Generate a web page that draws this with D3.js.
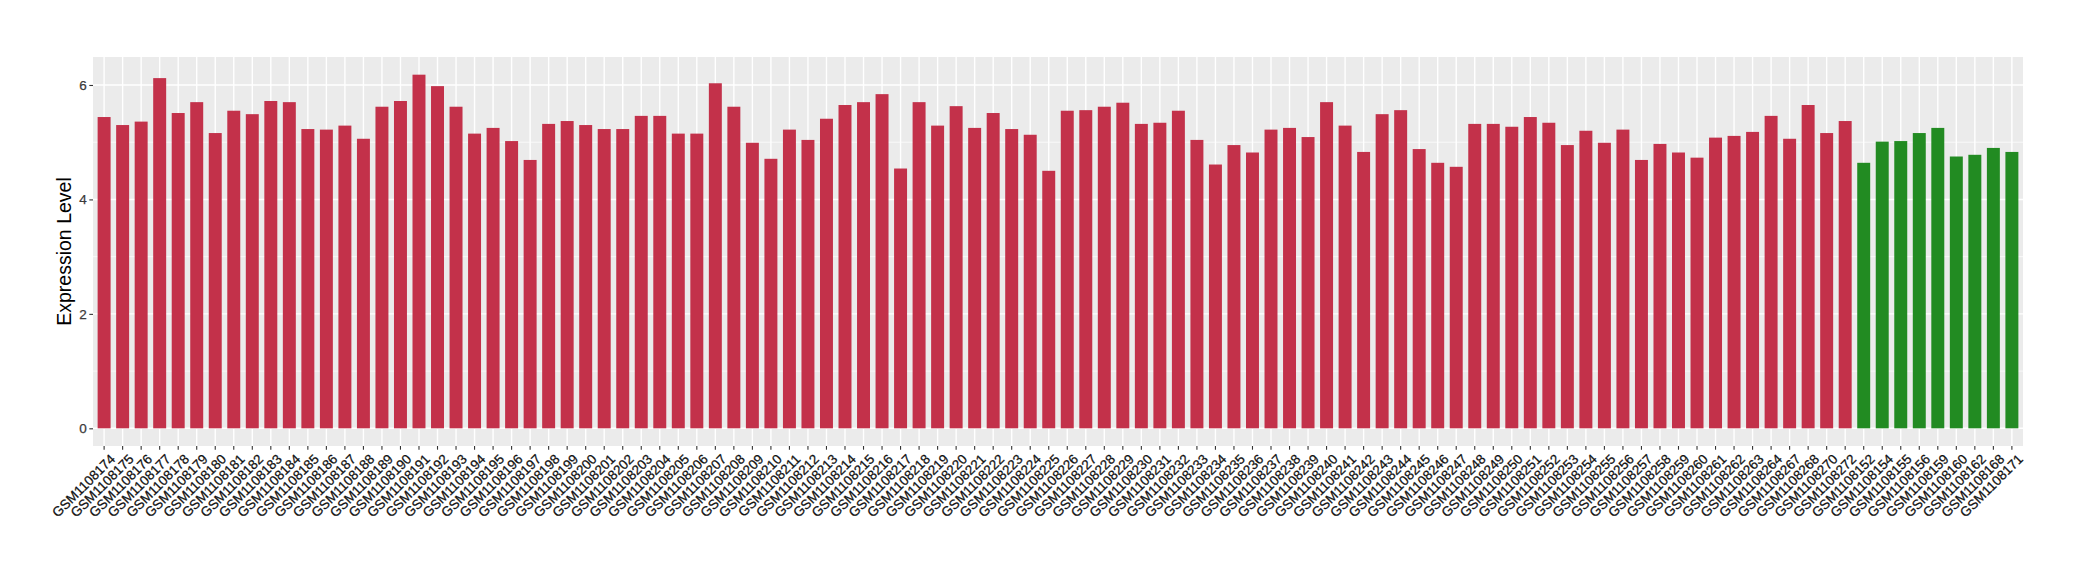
<!DOCTYPE html>
<html>
<head>
<meta charset="utf-8">
<script src="https://cdn.jsdelivr.net/npm/d3@7"></script>
<style>
  html, body { margin: 0; padding: 0; background: #ffffff; }
  svg { display: block; }
  text { font-family: "Liberation Sans", Arial, Helvetica, sans-serif; }
</style>
</head>
<body>
<svg id="chart" width="2080" height="580"></svg>
<script>
// ---- data ----
const redSamples = [
  "GSM1108174","GSM1108175","GSM1108176","GSM1108177","GSM1108178","GSM1108179","GSM1108180",
  "GSM1108181","GSM1108182","GSM1108183","GSM1108184","GSM1108185","GSM1108186","GSM1108187",
  "GSM1108188","GSM1108189","GSM1108190","GSM1108191","GSM1108192","GSM1108193","GSM1108194",
  "GSM1108195","GSM1108196","GSM1108197","GSM1108198","GSM1108199","GSM1108200","GSM1108201",
  "GSM1108202","GSM1108203","GSM1108204","GSM1108205","GSM1108206","GSM1108207","GSM1108208",
  "GSM1108209","GSM1108210","GSM1108211","GSM1108212","GSM1108213","GSM1108214","GSM1108215",
  "GSM1108216","GSM1108217","GSM1108218","GSM1108219","GSM1108220","GSM1108221","GSM1108222",
  "GSM1108223","GSM1108224","GSM1108225","GSM1108226","GSM1108227","GSM1108228","GSM1108229",
  "GSM1108230","GSM1108231","GSM1108232","GSM1108233","GSM1108234","GSM1108235","GSM1108236",
  "GSM1108237","GSM1108238","GSM1108239","GSM1108240","GSM1108241","GSM1108242","GSM1108243",
  "GSM1108244","GSM1108245","GSM1108246","GSM1108247","GSM1108248","GSM1108249","GSM1108250",
  "GSM1108251","GSM1108252","GSM1108253","GSM1108254","GSM1108255","GSM1108256","GSM1108257",
  "GSM1108258","GSM1108259","GSM1108260","GSM1108261","GSM1108262","GSM1108263","GSM1108264",
  "GSM1108267","GSM1108268","GSM1108270","GSM1108272"
];
const redValues = [
  5.44,5.30,5.36,6.12,5.51,5.70,5.16,
  5.55,5.49,5.72,5.70,5.23,5.22,5.29,
  5.06,5.62,5.72,6.18,5.98,5.62,5.15,
  5.25,5.02,4.69,5.32,5.37,5.30,5.23,
  5.23,5.46,5.46,5.15,5.15,6.03,5.62,
  4.99,4.71,5.22,5.04,5.41,5.65,5.70,
  5.84,4.54,5.70,5.29,5.63,5.25,5.51,
  5.23,5.13,4.50,5.55,5.56,5.62,5.69,
  5.32,5.34,5.55,5.04,4.61,4.95,4.82,
  5.22,5.25,5.09,5.70,5.29,4.83,5.49,
  5.56,4.88,4.64,4.57,5.32,5.32,5.27,
  5.44,5.34,4.95,5.20,4.99,5.22,4.69,
  4.97,4.82,4.73,5.08,5.11,5.18,5.46,
  5.06,5.65,5.16,5.37
];
const greenSamples = [
  "GSM1108152","GSM1108154","GSM1108155","GSM1108156","GSM1108159",
  "GSM1108160","GSM1108162","GSM1108168","GSM1108171"
];
const greenValues = [4.64,5.01,5.02,5.16,5.25,4.75,4.78,4.90,4.83];
const yTicks = [0, 2, 4, 6];
const yMinorTicks = [1, 3, 5];
const yTitle = "Expression Level";
const redColor = "#C3314A";
const greenColor = "#228B22";

// ---- build table ----
const rows = redSamples.map((s, i) => ({ sample: s, value: redValues[i], group: "red" }))
  .concat(greenSamples.map((s, i) => ({ sample: s, value: greenValues[i], group: "green" })));

// ---- layout ----
const panel = { left: 93, right: 2023, top: 57, bottom: 446 };
const svg = d3.select("#chart");

const x = d3.scaleBand()
  .domain(rows.map(d => d.sample))
  .range([panel.left, panel.right])
  .paddingInner(0.3)
  .paddingOuter(0.25);

const maxV = d3.max(rows, d => d.value);
const y = d3.scaleLinear()
  .domain([-0.05 * maxV, maxV * 1.05])
  .range([panel.bottom, panel.top]);

// panel background
svg.append("rect")
  .attr("x", panel.left).attr("y", panel.top)
  .attr("width", panel.right - panel.left)
  .attr("height", panel.bottom - panel.top)
  .attr("fill", "#EBEBEB");

// minor horizontal grid
svg.append("g").selectAll("line").data(yMinorTicks).join("line")
  .attr("x1", panel.left).attr("x2", panel.right)
  .attr("y1", d => y(d)).attr("y2", d => y(d))
  .attr("stroke", "#ffffff").attr("stroke-width", 0.7);

// major horizontal grid
svg.append("g").selectAll("line").data(yTicks).join("line")
  .attr("x1", panel.left).attr("x2", panel.right)
  .attr("y1", d => y(d)).attr("y2", d => y(d))
  .attr("stroke", "#ffffff").attr("stroke-width", 1.4);

// vertical grid
svg.append("g").selectAll("line").data(rows).join("line")
  .attr("x1", d => x(d.sample) + x.bandwidth() / 2)
  .attr("x2", d => x(d.sample) + x.bandwidth() / 2)
  .attr("y1", panel.top).attr("y2", panel.bottom)
  .attr("stroke", "#ffffff").attr("stroke-width", 1.4);

// bars
svg.append("g").selectAll("rect").data(rows).join("rect")
  .attr("x", d => x(d.sample))
  .attr("width", x.bandwidth())
  .attr("y", d => y(d.value))
  .attr("height", d => y(0) - y(d.value))
  .attr("fill", d => d.group === "red" ? redColor : greenColor);

// y axis
const yAxis = d3.axisLeft(y).tickValues(yTicks).tickSize(3.7).tickPadding(2.5).tickFormat(d3.format("d"));
const gy = svg.append("g").attr("transform", `translate(${panel.left},0)`).call(yAxis)
  .attr("font-size", 13.5).attr("font-family", "'Liberation Sans', Arial, sans-serif");
gy.select(".domain").remove();
gy.selectAll(".tick line").attr("stroke", "#333333").attr("stroke-width", 1.1);
gy.selectAll(".tick text").attr("fill", "#3a3a3a").attr("font-size", 13.5)
  .attr("stroke", "#3a3a3a").attr("stroke-width", 0.25);

// x axis
const xAxis = d3.axisBottom(x).tickSize(3.7).tickSizeOuter(0);
const gx = svg.append("g").attr("transform", `translate(0,${panel.bottom})`).call(xAxis)
  .attr("font-size", 13.5).attr("font-family", "'Liberation Sans', Arial, sans-serif");
gx.select(".domain").remove();
gx.selectAll(".tick line").attr("stroke", "#333333").attr("stroke-width", 1.1);
gx.selectAll(".tick text")
  .attr("fill", "#111111")
  .attr("stroke", "#111111").attr("stroke-width", 0.25)
  .attr("font-size", 13.5)
  .attr("text-anchor", "end")
  .attr("x", 0).attr("y", 0).attr("dy", "0.72em")
  .attr("transform", "translate(5,7) rotate(-45)");

// y title
svg.append("text")
  .attr("transform", `translate(71,${(panel.top + panel.bottom) / 2}) rotate(-90)`)
  .attr("text-anchor", "middle")
  .attr("fill", "#000000")
  .attr("font-size", 19.5)
  .text(yTitle);
</script>
</body>
</html>
